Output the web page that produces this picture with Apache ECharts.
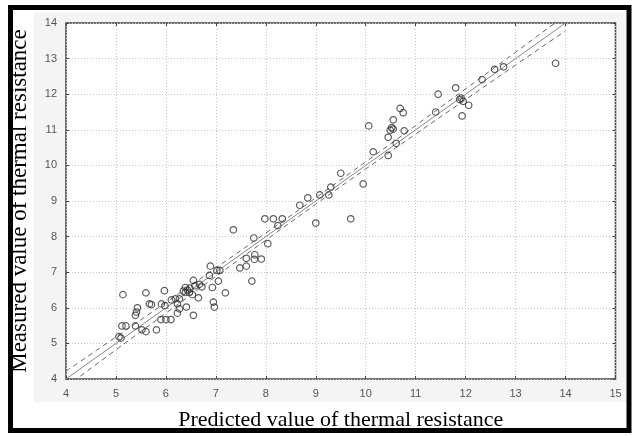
<!DOCTYPE html>
<html>
<head>
<meta charset="utf-8">
<script src="https://cdn.jsdelivr.net/npm/echarts@6/dist/echarts.min.js"></script>
<style>html,body{margin:0;padding:0;background:#fff}#c{width:633px;height:436px}</style>
</head>
<body>
<div id="c"></div>
<script>
// Observed points (predicted, measured)
const predicted = [13.8,12.76,12.58,12.33,11.8,11.45,11.91,11.95,12.06,11.93,11.4,10.69,10.75,10.55,10.52,10.49,10.77,10.06,10.45,10.61,10.15,10.45,9.5,9.95,9.3,9.26,9.08,8.84,8.68,9.7,9.0,7.98,8.15,8.33,8.24,7.35,8.04,7.76,7.78,7.61,7.77,7.91,7.48,7.61,7.72,6.89,7.02,7.08,6.87,7.05,7.19,6.93,6.55,6.67,6.72,6.39,6.43,6.47,6.53,6.65,6.39,6.41,6.95,6.97,6.55,6.27,6.19,6.11,6.23,6.27,6.23,5.97,5.98,5.91,5.71,5.67,5.6,5.9,6.0,6.1,5.43,5.41,5.39,5.14,5.12,5.2,5.39,5.52,5.6,5.81,5.06,5.1,6.48,6.35,6.58,11.88,10.55];
const measured  = [12.87,12.77,12.7,12.41,12.18,12.0,11.89,11.8,11.69,11.39,11.5,11.6,11.48,11.28,11.06,10.99,10.97,11.11,10.79,10.62,10.38,10.28,9.78,9.48,9.39,9.17,9.17,9.09,8.88,8.5,8.38,8.5,8.5,8.5,8.31,8.19,7.8,7.96,7.49,7.39,7.36,7.37,7.12,7.17,6.75,7.17,7.05,7.05,6.91,6.75,6.42,6.57,6.77,6.66,6.59,6.57,6.5,6.43,6.37,6.28,6.43,6.02,6.16,6.02,5.79,6.25,6.25,6.22,6.11,5.97,5.85,6.48,6.06,6.11,6.09,6.11,6.42,5.67,5.67,5.67,6.0,5.88,5.79,6.37,5.49,5.49,5.49,5.38,5.33,5.38,5.19,5.15,6.55,6.47,6.62,11.85,11.02];
// Fitted line and confidence band
const lineX  = [4,5,6,7,8,9,10,11,12,13,14];
const fitY   = [4,5,6,7,8,9,10,11,12,13,14];
const upperY = [4.22,5.18,6.15,7.12,8.1,9.09,10.1,11.12,12.15,13.18,14.22];
const lowerY = [3.78,4.82,5.85,6.88,7.9,8.91,9.9,10.88,11.85,12.82,13.78];
const xTicks = [4,5,6,7,8,9,10,11,12,13,14,15];
const yTicks = [4,5,6,7,8,9,10,11,12,13,14];

const pts = predicted.map((v,i)=>[v, measured[i]]);
const zip = (a,b)=>a.map((v,i)=>[v,b[i]]);

const chart = echarts.init(document.getElementById('c'), null, {renderer:'canvas'});
const labelStyle = {color:'#555', fontFamily:'Liberation Sans, Arial, sans-serif', fontSize:11};
const gridLine = {show:true, lineStyle:{color:'#c8c8c8', type:[1,2], width:1}};
chart.setOption({
  animation:false,
  backgroundColor:'#fff',
  graphic:[
    {type:'rect', z:-10, silent:true, shape:{x:34, y:12, width:592, height:390}, style:{fill:'#f4f4f4'}},
    {type:'rect', z:100, silent:true, shape:{x:10.5, y:7.5, width:618.5, height:423}, style:{fill:'none', stroke:'#000', lineWidth:5}}
  ],
  grid:{left:58.5, right:17.5, top:23, bottom:49.5, show:true, backgroundColor:'#fff', borderColor:'#444', borderWidth:1.5},
  xAxis:[{
    type:'value', min:4, max:15, interval:1,
    name:'Predicted value of thermal resistance', nameLocation:'middle', nameGap:30,
    nameTextStyle:{fontFamily:'Liberation Serif, Times New Roman, serif', fontSize:22, color:'#000'},
    axisLine:{show:false}, axisTick:{show:true, inside:true, length:3, lineStyle:{color:'#444'}},
    axisLabel:Object.assign({margin:9}, labelStyle),
    splitLine:gridLine
  },{
    type:'value', min:4, max:15, interval:1, position:'top',
    axisLine:{show:false}, axisTick:{show:true, inside:true, length:3, lineStyle:{color:'#444'}},
    axisLabel:{show:false}, splitLine:{show:false}
  }],
  yAxis:[{
    type:'value', min:4, max:14, interval:1,
    name:'Measured value of thermal resistance', nameLocation:'middle', nameGap:35,
    nameTextStyle:{fontFamily:'Liberation Serif, Times New Roman, serif', fontSize:23, color:'#000'},
    axisLine:{show:false}, axisTick:{show:true, inside:true, length:3, lineStyle:{color:'#444'}},
    axisLabel:Object.assign({margin:9}, labelStyle),
    splitLine:gridLine
  },{
    type:'value', min:4, max:14, interval:1, position:'right',
    axisLine:{show:false}, axisTick:{show:true, inside:true, length:3, lineStyle:{color:'#444'}},
    axisLabel:{show:false}, splitLine:{show:false}
  }],
  series:[
    {type:'line', data:zip(lineX, fitY), showSymbol:false, lineStyle:{color:'#888', width:1}, z:2, clip:true},
    {type:'line', data:zip(lineX, upperY), smooth:true, showSymbol:false, lineStyle:{color:'#666', width:1, type:[5,4]}, z:2, clip:true},
    {type:'line', data:zip(lineX, lowerY), smooth:true, showSymbol:false, lineStyle:{color:'#666', width:1, type:[5,4]}, z:2, clip:true},
    {type:'scatter', data:pts, symbol:'circle', symbolSize:6.5,
     itemStyle:{color:'rgba(255,255,255,0)', borderColor:'#333', borderWidth:1.2}, z:3}
  ]
});
</script>
</body>
</html>
